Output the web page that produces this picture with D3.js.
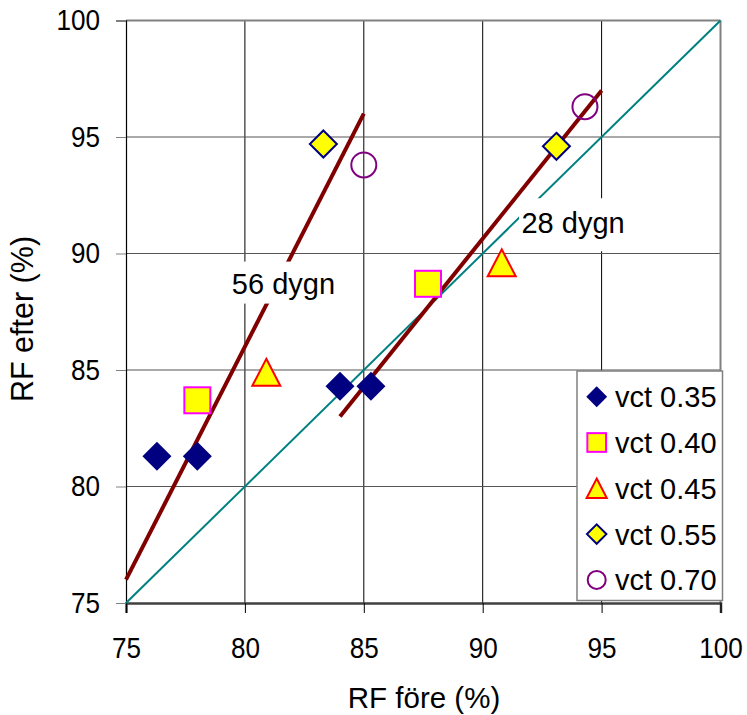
<!DOCTYPE html>
<html>
<head>
<meta charset="utf-8">
<script src="https://cdn.jsdelivr.net/npm/d3@7"></script>
<style>
  html, body { margin: 0; padding: 0; background: #fff; }
  svg { display: block; font-family: "Liberation Sans", Arial, sans-serif; }
</style>
</head>
<body>
<svg id="chart" width="747" height="715"></svg>
<script>
// ---- data ----
const xTicks = [75, 80, 85, 90, 95, 100];
const yTicks = [75, 80, 85, 90, 95, 100];
const xTitle = "RF före (%)";
const yTitle = "RF efter (%)";

const vct035 = [[76.3, 81.3], [78.0, 81.3], [84.0, 84.3], [85.3, 84.3]];
const vct040 = [[78.0, 83.7], [87.7, 88.7]];
const vct045 = [[80.9, 84.9], [90.8, 89.6]];
const vct055 = [[83.3, 94.7], [93.1, 94.6]];
const vct070 = [[85.0, 93.8], [94.3, 96.3]];

const seriesNames = ["vct 0.35", "vct 0.40", "vct 0.45", "vct 0.55", "vct 0.70"];

const line56 = [[75, 76], [85, 96]];
const line28 = [[84, 83], [95, 97]];
const lineEqual = [[75, 75], [100, 100]];

const label56 = { text: "56 dygn", x: 81.62, y: 88.73 };
const label28 = { text: "28 dygn", x: 93.8, y: 91.32 };

(function () {
// ---- layout ----
const svg = d3.select("#chart");
const pL = 126, pR = 720.5, pT = 20.5, pB = 603;
const x = d3.scaleLinear().domain([75, 100]).range([pL, pR]);
const y = d3.scaleLinear().domain([75, 100]).range([pB, pT]);
const FONT = "Liberation Sans, Arial, sans-serif";

// grid lines
svg.append("g").selectAll("line").data(xTicks.slice(1, -1)).join("line")
  .attr("x1", d => x(d)).attr("x2", d => x(d))
  .attr("y1", pT).attr("y2", pB)
  .attr("stroke", "#000").attr("stroke-width", 1);
svg.append("g").selectAll("line").data(yTicks.slice(1, -1)).join("line")
  .attr("x1", pL).attr("x2", pR)
  .attr("y1", d => y(d)).attr("y2", d => y(d))
  .attr("stroke", "#555").attr("stroke-width", 1);

// plot border (top & right gray)
svg.append("line").attr("x1", pL).attr("x2", pR).attr("y1", pT).attr("y2", pT)
  .attr("stroke", "#808080").attr("stroke-width", 2);
svg.append("line").attr("x1", pR).attr("x2", pR).attr("y1", pT).attr("y2", pB)
  .attr("stroke", "#808080").attr("stroke-width", 2);

// axes
const SX = 0.9; // tick labels are slightly condensed
const xAxis = d3.axisBottom(x).tickValues(xTicks).tickSize(10).tickPadding(24).tickFormat(d3.format("d"));
const yAxis = d3.axisLeft(y).tickValues(yTicks).tickSize(10).tickPadding(16).tickFormat(d3.format("d"));

const gx = svg.append("g").attr("transform", `translate(0,${pB})`).call(xAxis);
gx.select(".domain").attr("stroke", "#404040").attr("stroke-width", 2.5);
gx.selectAll(".tick line").attr("stroke", "#000");
gx.selectAll(".tick text").attr("font-size", 29).attr("fill", "#000")
  .attr("font-family", FONT).attr("transform", `scale(${SX},1)`);

const gy = svg.append("g").attr("transform", `translate(${pL},0)`).call(yAxis);
gy.select(".domain").attr("stroke", "#000").attr("stroke-width", 1.2);
gy.selectAll(".tick line").attr("stroke", "#808080");
gy.selectAll(".tick text").attr("font-size", 29).attr("fill", "#000")
  .attr("font-family", FONT)
  .attr("x", -26 / SX).attr("transform", `scale(${SX},1)`);

// axis titles
svg.append("text").attr("x", 424).attr("y", 708).attr("text-anchor", "middle")
  .attr("font-size", 29.5).text(xTitle);
svg.append("text").attr("transform", "translate(33,319) rotate(-90)")
  .attr("text-anchor", "middle").attr("font-size", 30.5).text(yTitle);

// lines
const lineGen = d3.line().x(d => x(d[0])).y(d => y(d[1]));
svg.append("path").attr("d", lineGen(lineEqual)).attr("fill", "none")
  .attr("stroke", "#008080").attr("stroke-width", 2);
svg.append("path").attr("d", lineGen(line56)).attr("fill", "none")
  .attr("stroke", "#800000").attr("stroke-width", 4);
svg.append("path").attr("d", lineGen(line28)).attr("fill", "none")
  .attr("stroke", "#800000").attr("stroke-width", 4);

// text labels with white boxes
function drawLabel(l, padL, padR, padT, padB) {
  const cx = x(l.x), cy = y(l.y);
  svg.append("rect").attr("x", cx - padL).attr("y", cy - padT)
    .attr("width", padL + padR).attr("height", padT + padB).attr("fill", "#fff");
  svg.append("text").attr("x", cx).attr("y", cy).attr("dy", "0.36em")
    .attr("text-anchor", "middle").attr("font-size", 29).attr("fill", "#000").text(l.text);
}
drawLabel(label56, 57, 57, 21.5, 20.5);
drawLabel(label28, 54, 58, 24.5, 28.5);

// markers
function diamond(g, cx, cy, r) {
  return g.append("path").attr("d", `M${cx},${cy - r}L${cx + r},${cy}L${cx},${cy + r}L${cx - r},${cy}Z`);
}
function triangle(g, cx, cy, w, h) {
  return g.append("path").attr("d", `M${cx},${cy - h / 2}L${cx + w / 2},${cy + h / 2}L${cx - w / 2},${cy + h / 2}Z`);
}
const styles = [
  (g, cx, cy, s) => diamond(g, cx, cy, 14.5 * s).attr("fill", "#000080"),
  (g, cx, cy, s) => g.append("rect").attr("x", cx - 13 * s).attr("y", cy - 13 * s)
      .attr("width", 26 * s).attr("height", 26 * s)
      .attr("fill", "#ffff00").attr("stroke", "#ff00ff").attr("stroke-width", 2),
  (g, cx, cy, s) => triangle(g, cx, cy, 28 * s, 27 * s)
      .attr("fill", "#ffff00").attr("stroke", "#ff0000").attr("stroke-width", 2),
  (g, cx, cy, s) => diamond(g, cx, cy, 13.5 * s)
      .attr("fill", "#ffff00").attr("stroke", "#000080").attr("stroke-width", 2),
  (g, cx, cy, s) => g.append("circle").attr("cx", cx).attr("cy", cy).attr("r", 12.5 * s)
      .attr("fill", "none").attr("stroke", "#800080").attr("stroke-width", 2)
];
const allSeries = [vct035, vct040, vct045, vct055, vct070];
const gm = svg.append("g");
allSeries.forEach((data, i) => {
  data.forEach(d => styles[i](gm, x(d[0]), y(d[1]), 1));
});

// legend
const lg = svg.append("g");
lg.append("rect").attr("x", 577).attr("y", 371).attr("width", 145.5).attr("height", 229.5)
  .attr("fill", "#fff").attr("stroke", "#808080").attr("stroke-width", 1.5);
seriesNames.forEach((name, i) => {
  const cy = 396.7 + i * 45.8;
  styles[i](lg, 596.7, cy, 0.72);
  lg.append("text").attr("x", 615).attr("y", cy).attr("dy", "0.36em")
    .attr("font-size", 29).attr("fill", "#000").text(name);
});
})();
</script>
</body>
</html>
